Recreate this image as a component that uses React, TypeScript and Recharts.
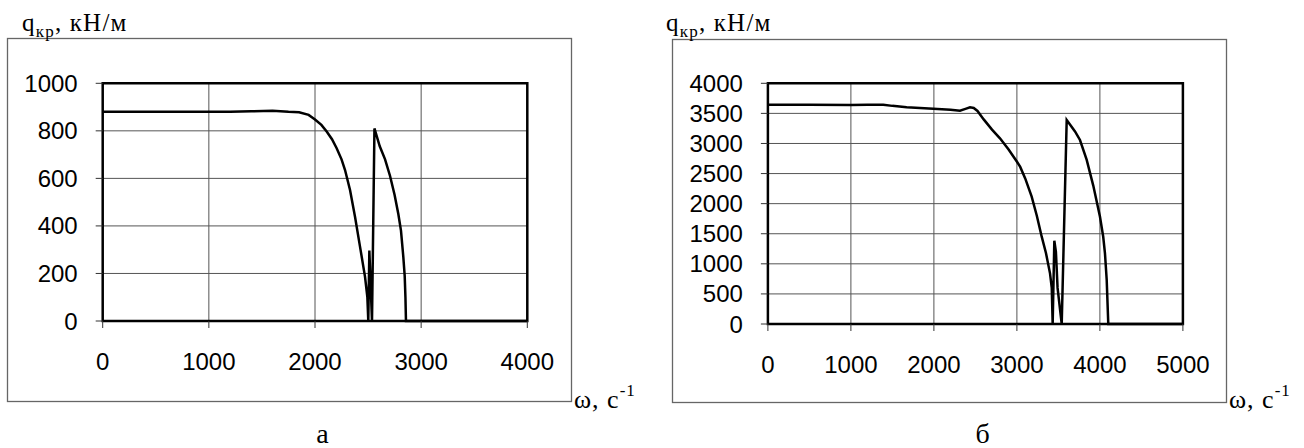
import React from "react";
import {
  CartesianGrid,
  Line,
  LineChart,
  ReferenceArea,
  XAxis,
  YAxis,
} from "recharts";

// panel "а": critical load vs angular speed
const omegaA = [
  0, 400, 800, 1200, 1400, 1600, 1750, 1850, 1940, 2000, 2060, 2110, 2160,
  2204, 2250, 2283, 2330, 2377, 2424, 2471, 2493, 2502, 2512, 2537, 2560,
  2610, 2660, 2707, 2750, 2785, 2810, 2832, 2845, 2852, 2857, 4000,
];
const qA = [
  880, 880, 880, 880, 882, 885, 880, 878, 867, 848, 825, 797, 765, 727, 680,
  635, 551, 439, 313, 187, 102, 0, 296, 0, 810, 735, 680, 610, 530, 450, 380,
  270, 190, 100, 0, 0,
];

// panel "б"
const omegaB = [
  0, 500, 1000, 1200, 1390, 1500, 1672, 1993, 2200, 2314, 2380, 2435, 2480,
  2525, 2600, 2700, 2796, 2900, 2999, 3040, 3100, 3178, 3240, 3299, 3350,
  3399, 3420, 3431, 3451, 3470, 3490, 3540, 3600, 3700, 3760, 3841, 3920,
  4001, 4040, 4061, 4082, 4101, 5000,
];
const qB = [
  3645, 3645, 3640, 3645, 3645, 3625, 3601, 3579, 3560, 3545, 3575, 3600,
  3590, 3540, 3400, 3230, 3086, 2900, 2700, 2610, 2420, 2116, 1800, 1451,
  1180, 842, 600, 0, 1385, 1200, 600, 0, 3390, 3200, 3058, 2726, 2300, 1783,
  1450, 1175, 731, 0, 0,
];

const ticksXA = [0, 1000, 2000, 3000, 4000];
const ticksYA = [0, 200, 400, 600, 800, 1000];
const ticksXB = [0, 1000, 2000, 3000, 4000, 5000];
const ticksYB = [0, 500, 1000, 1500, 2000, 2500, 3000, 3500, 4000];

const rowsA = omegaA.map((w, i) => ({ w, q: qA[i] }));
const rowsB = omegaB.map((w, i) => ({ w, q: qB[i] }));

const tickFont = {
  fill: "#000",
  fontSize: 24,
  fontFamily: "'Liberation Sans', Arial, sans-serif",
};
const serif = "'Liberation Serif', 'Times New Roman', serif";

type PanelProps = {
  rows: { w: number; q: number }[];
  xTicks: number[];
  yTicks: number[];
  width: number;
  height: number;
  margin: { top: number; right: number; bottom: number; left: number };
  yWidth: number;
};

function Panel({ rows, xTicks, yTicks, width, height, margin, yWidth }: PanelProps) {
  const xMax = xTicks[xTicks.length - 1];
  const yMax = yTicks[yTicks.length - 1];
  return (
    <LineChart width={width} height={height} data={rows} margin={margin}>
      <CartesianGrid stroke="#555" strokeWidth={1} />
      <XAxis
        dataKey="w"
        type="number"
        domain={[0, xMax]}
        ticks={xTicks}
        interval={0}
        height={40}
        axisLine={false}
        tickLine={{ stroke: "#333" }}
        tickSize={7}
        tickMargin={25}
        tick={tickFont}
      />
      <YAxis
        type="number"
        domain={[0, yMax]}
        ticks={yTicks}
        interval={0}
        width={yWidth}
        axisLine={false}
        tickLine={{ stroke: "#333" }}
        tickSize={7}
        tickMargin={18}
        tick={tickFont}
      />
      <ReferenceArea
        x1={0}
        x2={xMax}
        y1={0}
        y2={yMax}
        fill="none"
        stroke="#000"
        strokeWidth={2.5}
        ifOverflow="visible"
      />
      <Line
        dataKey="q"
        type="linear"
        stroke="#000"
        strokeWidth={2.5}
        dot={false}
        isAnimationActive={false}
      />
    </LineChart>
  );
}

function AxisTitle({ x }: { x: number }) {
  return (
    <text x={x} y={31} fontFamily={serif} fontSize={25} letterSpacing={1.2}>
      q<tspan dy={6} fontSize={17}>кр</tspan>
      <tspan dy={-6}>, кН/м</tspan>
    </text>
  );
}

function OmegaTitle({ x }: { x: number }) {
  return (
    <text x={x} y={408} fontFamily={serif} fontSize={26} letterSpacing={1}>
      ω, с<tspan dy={-12} fontSize={17}>-1</tspan>
    </text>
  );
}

function Captions() {
  return (
    <svg
      width={1304}
      height={448}
      style={{ position: "absolute", left: 0, top: 0 }}
    >
      <rect x={7.5} y={38.5} width={564} height={363} fill="none" stroke="#666" strokeWidth={1.3} />
      <rect x={672.5} y={39.5} width={554} height={363} fill="none" stroke="#666" strokeWidth={1.3} />

      <AxisTitle x={22} />
      <AxisTitle x={666} />
      <OmegaTitle x={574} />
      <OmegaTitle x={1229} />

      <text x={322.5} y={443} fontFamily={serif} fontSize={28} textAnchor="middle">
        а
      </text>
      <text x={982.5} y={443} fontFamily={serif} fontSize={28} textAnchor="middle">
        б
      </text>
    </svg>
  );
}

export default function App() {
  return (
    <div
      style={{
        position: "absolute",
        left: 0,
        top: 0,
        width: 1304,
        height: 448,
        background: "#fff",
        overflow: "hidden",
      }}
    >
      <Captions />
      <div style={{ position: "absolute", left: 7, top: 38 }}>
        <Panel
          rows={rowsA}
          xTicks={ticksXA}
          yTicks={ticksYA}
          width={565}
          height={363}
          margin={{ top: 45.3, right: 44.7, bottom: 40, left: 0 }}
          yWidth={95.7}
        />
      </div>
      <div style={{ position: "absolute", left: 673, top: 39 }}>
        <Panel
          rows={rowsB}
          xTicks={ticksXB}
          yTicks={ticksYB}
          width={554}
          height={363}
          margin={{ top: 44.3, right: 44.1, bottom: 38, left: 0 }}
          yWidth={94.9}
        />
      </div>
    </div>
  );
}
